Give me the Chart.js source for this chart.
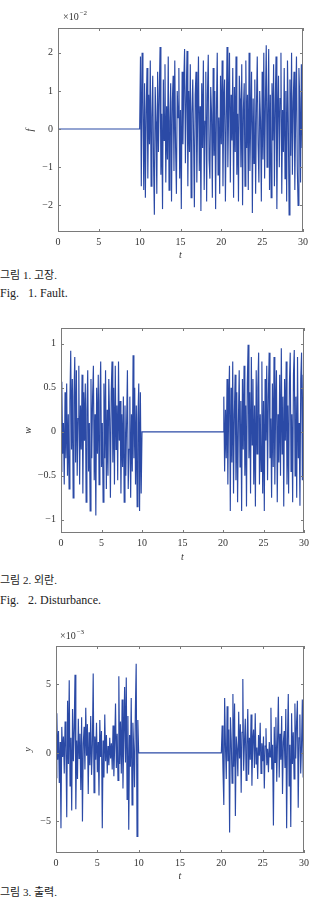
<!DOCTYPE html>
<html>
<head>
<meta charset="utf-8">
<script src="https://cdn.jsdelivr.net/npm/chart.js@4/dist/chart.umd.min.js"></script>
<style>
  body { margin: 0; background: #fff; width: 313px; height: 898px; position: relative; overflow: hidden; }
  canvas { position: absolute; left: 0; }
  .cap { position: absolute; left: 0; font-family: "Liberation Serif", "Times New Roman", "Noto Sans CJK KR", serif; font-size: 11px; line-height: 14px; color: #222; white-space: pre; }
  .fig { font-size: 12px; }
</style>
</head>
<body>
<canvas id="c1" width="313" height="262" style="top:0px"></canvas>
<div class="cap" style="top:268px">그림 1. 고장.</div>
<div class="cap fig" style="top:286px">Fig.   1. Fault.</div>
<canvas id="c2" width="313" height="264" style="top:300px"></canvas>
<div class="cap" style="top:573px">그림 2. 외란.</div>
<div class="cap fig" style="top:593px">Fig.   2. Disturbance.</div>
<canvas id="c3" width="313" height="265" style="top:618px"></canvas>
<div class="cap" style="top:885px">그림 3. 출력.</div>
<script>
// time grid
const sampleStep = 0.1;
const timeTicks = [0, 5, 10, 15, 20, 25, 30];

// Fig 1: fault f (x 1e-2), zero until t=10, then noise from t=10 to 30
const faultTicks = [-2, -1, 0, 1, 2];
const faultQuiet = [[0, 0]];
const faultStart = 10;
const faultValues = [
  0, 1.9, -1.5, 2.0, 0.8, -1.6, 1.2, -1.8, 0.5, 1.6,
  -1.3, 0.9, -0.4, 1.8, -1.5, 0.3, 1.4, -0.9, -2.25, 1.1,
  0.2, -1.7, 1.5, -0.6, 0.9, 2.15, -1.2, 0.4, -2.1, 1.3,
  -0.3, 1.7, -1.4, 0.6, -0.8, 1.9, -1.6, 0.2, 1.2, -1.9,
  0.7, 1.4, -1.1, 1.8, -0.5, -1.7, 1.0, 0.3, 1.6, -1.3,
  0.5, -2.1, 1.5, -0.4, 1.2, 2.1, -0.9, 0.8, 2.05, -1.5,
  1.0, -0.6, 1.7, -1.8, 0.4, 1.3, -0.2, -2.05, 0.9, 1.5,
  -1.4, 0.3, 1.9, -1.1, 0.6, -2.15, 1.2, -0.5, 1.8, -1.6,
  0.2, 1.5, -1.9, 0.9, 1.95, -0.8, -1.3, 1.1, 0.4, -1.8,
  1.6, -0.7, 1.0, -2.1, 0.5, 2.0, -1.2, 0.3, -1.7, 1.4,
  -0.4, 1.8, -1.5, 0.7, 1.3, -1.9, 0.2, 2.15, -1.0, 0.6,
  2.0, -1.4, 0.9, -0.3, 1.6, -1.8, 1.1, -0.6, 1.9, -1.2,
  0.4, -1.9, 1.4, 0.8, -1.0, 1.7, -2.0, 0.5, 1.2, -1.5,
  1.8, -0.5, 0.9, -1.6, 2.0, -1.1, 0.3, 1.5, -2.2, 0.8,
  -0.9, 1.3, -1.7, 0.6, 1.9, -0.4, -1.4, 1.0, 0.2, -1.9,
  1.5, -0.8, 2.0, -1.3, 0.7, 2.2, -1.0, 0.4, 2.1, -1.6,
  0.9, -1.8, 1.2, -0.3, 1.7, -1.5, 0.6, 1.9, -2.1, 0.3,
  1.4, -1.0, 0.8, 2.0, -1.7, 0.5, -0.6, 1.6, -1.3, 1.0,
  -1.9, 1.8, 0.2, -2.25, 1.3, -0.7, 2.0, -1.2, 0.7, 1.5,
  -1.6, 0.4, 1.9, -1.0, -2.0, 1.6, 0.8, -1.4, 1.7, -0.5,
  1.0
];

// Fig 2: disturbance w, noise on 0-10 and 20-30, zero between
const distTicks = [-1, -0.5, 0, 0.5, 1];
const distStartA = 0;
const distValuesA = [
  -0.45, 0.57, -0.25, 0.1, -0.6, 0.45, -0.3, 0.55, -0.5, 0.2,
  -0.65, 0.35, 0.92, -0.2, 0.6, -0.75, 0.4, 0.85, -0.35, 0.7,
  -0.5, 0.15, 0.75, -0.6, 0.3, -0.2, 0.65, -0.7, 0.45, -0.1,
  0.55, -0.8, 0.25, 0.7, -0.45, 0.1, -0.9, 0.6, -0.3, 0.4,
  0.75, -0.55, 0.2, -0.95, 0.5, -0.25, 0.65, -0.6, 0.35, 0.8,
  -0.4, 0.1, -0.8, 0.55, -0.3, 0.7, -0.65, 0.25, -0.5, 0.6,
  0.15, -0.75, 0.45, 0.8, -0.35, 0.5, -0.6, 0.75, -0.2, 0.3,
  -0.55, 0.8, -0.1, 0.35, -0.7, 0.2, -0.4, 0.4, -0.8, 0.3,
  -0.5, 0.1, 0.7, -0.65, -0.2, 0.4, -0.75, 0.2, -0.45, 0.87,
  -0.3, 0.5, -0.6, 0.3, -0.85, 0.15, 0.55, -0.9, 0.45, -0.7,
  0
];
const distStartB = 20;
const distValuesB = [
  0, 0.4, -0.45, 0.25, -0.3, 0.6, -0.6, 0.3, 0.75, -0.9,
  0.5, -0.35, 0.8, -0.7, 0.2, 0.65, -0.55, 0.45, -0.8, 0.1,
  0.7, -0.4, 0.35, -0.9, 0.6, -0.2, 0.75, -0.5, 0.3, -0.85,
  0.55, 0.99, -0.3, 0.45, -0.7, 0.85, -0.15, 0.6, -0.6, 0.3,
  -0.85, 0.7, -0.25, 0.5, 0.9, -0.6, 0.2, -0.45, 0.8, -0.7,
  0.35, -0.9, 0.6, -0.1, 0.75, -0.55, 0.4, 0.9, -0.3, 0.15,
  -0.75, 0.55, -0.4, 0.85, -0.6, 0.3, 0.7, -0.8, 0.2, -0.35,
  0.65, -0.5, 0.95, -0.25, 0.4, -0.85, 0.6, -0.1, 0.8, -0.6,
  0.3, -0.7, 0.55, 0.9, -0.45, 0.2, -0.8, 0.65, 0.93, -0.5,
  0.4, -0.75, 0.85, -0.3, 0.1, -0.84, 0.6, 0.9, -0.55, 0.65,
  0.3
];

// Fig 3: output y (x 1e-3)
const outTicks = [-5, 0, 5];
const outStartA = 0;
const outValuesA = [
  -1.8, 2.9, -0.5, 1.6, -2.2, 0.8, -5.5, 1.9, -0.3, 1.2,
  -1.5, 2.3, 0.4, -4.7, 3.8, -0.8, 5.3, -2.4, 1.1, -4.2,
  3.2, -0.6, 1.8, 5.7, -4.1, 0.9, -1.9, 2.5, -0.4, 1.4,
  -2.7, 2.6, -5.0, 0.7, 1.9, -1.2, 3.3, -0.2, 2.1, -3.0,
  1.5, -0.9, 2.7, -1.6, 0.6, 5.8, -2.9, 1.2, -0.5, 2.2,
  -1.4, 0.8, -3.1, 2.4, -0.3, 1.6, -5.5, 0.9, -1.8, 2.8,
  -0.6, 1.3, -1.5, 0.5, -0.9, 1.1, -0.4, 0.7, -1.2, 2.0,
  -1.7, 0.6, 3.6, -1.1, 1.4, -2.0, 5.6, -0.8, 2.3, -1.5,
  3.9, -2.6, 1.0, 4.8, -0.7, 5.5, -3.4, 2.7, -5.6, 1.3,
  -1.0, 4.0, -3.8, 2.2, 0.3, -2.5, 3.1, 6.5, -6.1, 2.4,
  0
];
const outStartB = 20;
const outValuesB = [
  0, 2.0, -1.3, -3.8, 4.0, 0.5, -1.9, 3.4, -0.6, 1.7,
  -5.8, 2.6, 0.9, -2.2, 4.3, -1.0, 3.6, -4.6, 1.2, 0.3,
  -1.7, 3.0, -0.4, 2.1, -2.9, 1.5, 5.4, -1.3, 0.8, 2.5,
  -2.0, 0.6, 3.2, -1.6, 1.1, -0.5, 2.8, -2.4, 0.9, 1.7,
  -1.1, 2.9, -0.8, 0.4, -1.9, 1.3, -0.2, 2.2, -1.5, 0.7,
  -0.6, 1.2, -2.6, 0.5, 1.8, -0.9, 0.3, -1.4, 0.8, -0.3,
  3.3, -1.2, 0.6, -5.3, 1.9, -0.7, 2.6, -2.1, 0.9, 4.1,
  -1.8, 1.4, -0.5, 2.7, -3.0, 0.8, 1.6, -1.1, 3.2, -5.5,
  1.0, 4.3, -2.4, 0.6, -5.4, 2.9, -0.8, 1.5, -1.9, 3.6,
  -0.4, 2.2, 3.8, -4.0, 1.1, 2.8, -1.5, 0.5, 3.9, -1.8,
  0.5
];

const lineColor = '#2b4aa6';
const frameColor = '#7a7a7a';
const textColor = '#333';
const serif = '"Liberation Serif", "Times New Roman", serif';

function toPoints(start, values) {
  return values.map((v, i) => ({ x: +(start + i * sampleStep).toFixed(2), y: v }));
}

function minusSign(v) {
  return String(v).replace('-', '\u2212');
}

// box + inward ticks on all four sides, plus the ×10^n factor
const framePlugin = {
  id: 'frame',
  afterDatasetsDraw(chart, args, opts) {
    const { ctx, chartArea: a, scales } = chart;
    ctx.save();
    ctx.strokeStyle = frameColor;
    ctx.lineWidth = 1;
    ctx.strokeRect(a.left + 0.5, a.top + 0.5, a.right - a.left - 1, a.bottom - a.top - 1);
    ctx.beginPath();
    scales.x.ticks.forEach(t => {
      const px = Math.round(scales.x.getPixelForValue(t.value)) + 0.5;
      ctx.moveTo(px, a.bottom); ctx.lineTo(px, a.bottom - 3);
      ctx.moveTo(px, a.top); ctx.lineTo(px, a.top + 3);
    });
    scales.y.ticks.forEach(t => {
      const py = Math.round(scales.y.getPixelForValue(t.value)) + 0.5;
      ctx.moveTo(a.left, py); ctx.lineTo(a.left + 3, py);
      ctx.moveTo(a.right, py); ctx.lineTo(a.right - 3, py);
    });
    ctx.stroke();
    if (opts.exponent) {
      const x0 = a.left + opts.dx;
      const y0 = a.top - opts.dy;
      ctx.fillStyle = textColor;
      ctx.textBaseline = 'middle';
      ctx.font = '10px ' + serif;
      ctx.fillText('\u00d710', x0, y0);
      const w = ctx.measureText('\u00d710').width;
      ctx.font = '7px ' + serif;
      ctx.fillText(opts.exponent, x0 + w + 1, y0 - 4);
    }
    ctx.restore();
  }
};

function makeChart(id, cfg) {
  return new Chart(document.getElementById(id), {
    type: 'line',
    data: {
      datasets: [{
        data: cfg.points,
        borderColor: lineColor,
        borderWidth: 1.15,
        pointRadius: 0,
        tension: 0,
        fill: false
      }]
    },
    options: {
      responsive: false,
      animation: false,
      events: [],
      layout: { padding: cfg.padding },
      plugins: {
        legend: { display: false },
        tooltip: { enabled: false },
        frame: { exponent: cfg.exponent, dx: cfg.expDx, dy: cfg.expDy }
      },
      scales: {
        x: {
          type: 'linear',
          min: 0,
          max: 30,
          afterBuildTicks: s => { s.ticks = timeTicks.map(v => ({ value: v })); },
          afterFit: s => { s.height = cfg.xHeight; },
          grid: { display: false, drawTicks: false },
          border: { display: false },
          ticks: { padding: 4, color: textColor, font: { family: serif, size: 10 }, maxRotation: 0, autoSkip: false },
          title: { display: true, text: 't', color: textColor, padding: 0, font: { family: serif, size: 10, style: 'italic' } }
        },
        y: {
          type: 'linear',
          min: cfg.yMin,
          max: cfg.yMax,
          afterBuildTicks: s => { s.ticks = cfg.yTicks.map(v => ({ value: v })); },
          afterFit: s => { s.width = cfg.yWidth; },
          grid: { display: false, drawTicks: false },
          border: { display: false },
          ticks: { padding: 5, color: textColor, font: { family: serif, size: 10 }, callback: v => minusSign(v) },
          title: { display: true, text: cfg.yLabel, color: textColor, padding: 0, font: { family: serif, size: 10, style: 'italic' } }
        }
      }
    },
    plugins: [framePlugin]
  });
}

makeChart('c1', {
  points: faultQuiet.map(p => ({ x: p[0], y: p[1] })).concat(toPoints(faultStart, faultValues)),
  yTicks: faultTicks, yMin: -2.7, yMax: 2.65, yLabel: 'f',
  padding: { top: 28, right: 10, left: 24, bottom: 1 },
  yWidth: 34, xHeight: 29,
  exponent: '\u22122', expDx: 5, expDy: 11
});

makeChart('c2', {
  points: toPoints(distStartA, distValuesA).concat(toPoints(distStartB, distValuesB)),
  yTicks: distTicks, yMin: -1.15, yMax: 1.18, yLabel: 'w',
  padding: { top: 28, right: 6, left: 22, bottom: 1 },
  yWidth: 39, xHeight: 30
});

makeChart('c3', {
  points: toPoints(outStartA, outValuesA).concat(toPoints(outStartB, outValuesB)),
  yTicks: outTicks, yMin: -7.3, yMax: 7.8, yLabel: 'y',
  padding: { top: 28, right: 7, left: 22, bottom: 1 },
  yWidth: 34, xHeight: 29,
  exponent: '\u22123', expDx: 4, expDy: 10
});
</script>
</body>
</html>
